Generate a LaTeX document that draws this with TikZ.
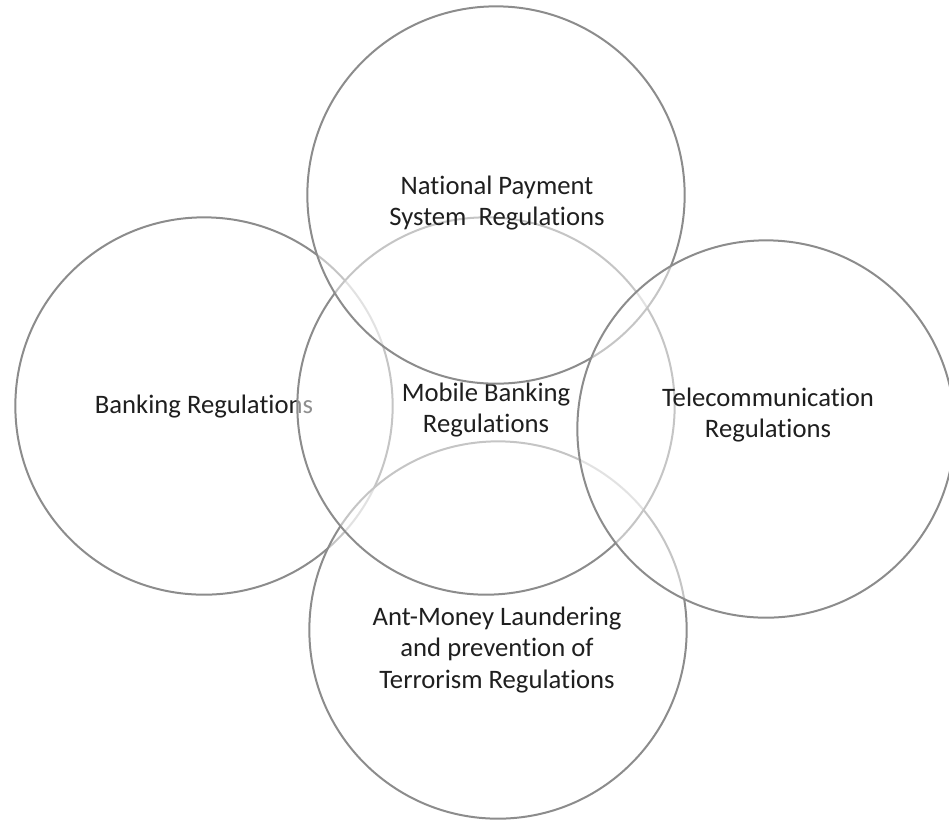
\documentclass[tikz,border=0pt]{standalone}
\usepackage{fontspec}
\setmainfont{Carlito}[Ligatures=NoCommon]
\definecolor{ringgray}{HTML}{8C8C8C}
\colorlet{labelcolor}{black!88}
\tikzstyle{ring} = [
    circle,
    draw=ringgray,
    line width=1.5pt,
    fill=white,
    fill opacity=0.5,
    inner sep=0pt,
    minimum size=283pt
    ]
\tikzstyle{tag} = [
    text=labelcolor,
    align=center,
    inner sep=0pt,
    font=\fontsize{20}{23.5}\selectfont
    ]

\begin{document}
\begin{tikzpicture}[x=0.75pt, y=-0.75pt]
\useasboundingbox (0,0) rectangle (949,819);
% outer rings go on top of the middle one, so it shows through
\node[ring] (banking) at (204,406) {};
\node[tag] (banking text) at (204,407) {Banking Regulations};
\node[ring] (aml) at (498,630) {};
\node[tag] (aml text) at (497,650) {Ant-Money Laundering\\and prevention of\\Terrorism Regulations};
\node[ring] (mobile) at (486,406) {};
\node[tag] (mobile text) at (486,410) {Mobile Banking\\Regulations};
\node[ring] (nps) at (496,195) {};
\node[tag] (nps text) at (497,203) {National Payment\\System~~Regulations};
\node[ring] (telecom) at (766,429) {};
\node[tag] (telecom text) at (768,415) {Telecommunication\\Regulations};
\end{tikzpicture}
\end{document}
